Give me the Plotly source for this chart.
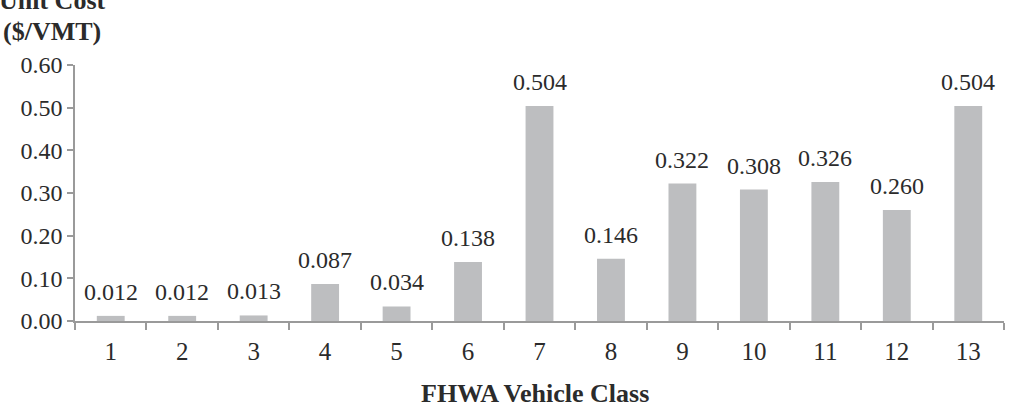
import plotly.graph_objects as go

categories = ["1", "2", "3", "4", "5", "6", "7", "8", "9", "10", "11", "12", "13"]
unit_cost = [0.012, 0.012, 0.013, 0.087, 0.034, 0.138, 0.504, 0.146, 0.322, 0.308, 0.326, 0.260, 0.504]
y_ticks = [0.0, 0.1, 0.2, 0.3, 0.4, 0.5, 0.6]
y_tick_labels = ["0.00", "0.10", "0.20", "0.30", "0.40", "0.50", "0.60"]

FONT = "Liberation Serif, Times New Roman, serif"
TEXT = "#2b2b2b"
AXIS = "#9a9a9a"

fig = go.Figure()
fig.add_trace(go.Bar(
    x=categories, y=unit_cost,
    marker=dict(color="#BDBEC0", line=dict(width=0)),
    width=0.39,
    hoverinfo="x+y",
))

annotations = []
for i, v in enumerate(unit_cost):
    annotations.append(dict(
        x=i, y=v, xref="x", yref="y", text=f"{v:.3f}", showarrow=False,
        yanchor="bottom", xanchor="center", yshift=9,
        font=dict(family=FONT, size=24, color=TEXT),
    ))

annotations += [
    dict(x=0, y=1, xref="paper", yref="paper", text="<b>Unit Cost</b>", showarrow=False,
         xanchor="center", yanchor="bottom", xshift=-23, yshift=48,
         font=dict(family=FONT, size=26, color=TEXT)),
    dict(x=0, y=1, xref="paper", yref="paper", text="<b>($/VMT)</b>", showarrow=False,
         xanchor="center", yanchor="bottom", xshift=-23, yshift=17,
         font=dict(family=FONT, size=26, color=TEXT)),
    dict(x=0.5, y=0, xref="paper", yref="paper", text="<b>FHWA Vehicle Class</b>", showarrow=False,
         xanchor="center", yanchor="middle", yshift=-72, xshift=-5,
         font=dict(family=FONT, size=26, color=TEXT)),
]

fig.update_layout(
    width=1015, height=408,
    margin=dict(l=75, r=11, t=65, b=87),
    paper_bgcolor="white", plot_bgcolor="white",
    showlegend=False,
    annotations=annotations,
    font=dict(family=FONT, color=TEXT),
    xaxis=dict(
        type="category",
        range=[-0.5, len(categories) - 0.5],
        showline=True, linecolor=AXIS, linewidth=1.5,
        ticks="outside", tickson="boundaries", ticklen=7, tickcolor=AXIS, tickwidth=1.5,
        showgrid=False, zeroline=False,
        tickfont=dict(family=FONT, size=25, color=TEXT),
        ticklabelstandoff=7,
        fixedrange=True,
    ),
    yaxis=dict(
        range=[0, 0.6],
        tickmode="array", tickvals=y_ticks, ticktext=y_tick_labels,
        showline=True, linecolor=AXIS, linewidth=1.5,
        ticks="outside", ticklen=6, tickcolor=AXIS, tickwidth=1.5,
        showgrid=False, zeroline=False,
        tickfont=dict(family=FONT, size=24, color=TEXT),
        fixedrange=True,
    ),
)

fig.write_html("out.html")
